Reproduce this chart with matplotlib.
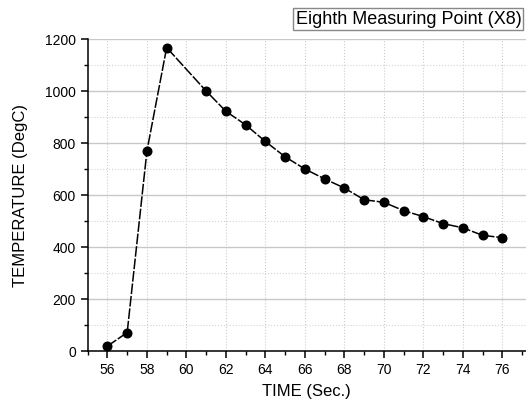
import matplotlib.pyplot as plt
from matplotlib.ticker import MultipleLocator

plt.rcParams.update({
    "font.family": ["Liberation Sans", "DejaVu Sans"],
    "font.size": 10
})

time_sec = [56, 57, 58, 59, 61, 62, 63, 64, 65, 66, 67, 68, 69, 70, 71, 72, 73, 74, 75, 76]
temp_degc = [20, 72, 770, 1168, 1001, 923, 871, 807, 748, 701, 663, 628, 583, 573, 541, 518, 491, 475, 446, 437]

fig = plt.figure(figsize=(5.26, 4.05), dpi=100)
ax = fig.add_axes([0.1667, 0.1326, 0.8333, 0.7704])

ax.plot(time_sec, temp_degc, color='black', lw=1.1, dashes=(7, 1.2),
        marker='o', ms=6.2, mfc='black', mec='black')

ax.set_xlim(55, 77.2)
ax.set_ylim(0, 1200)
ax.xaxis.set_major_locator(MultipleLocator(2))
ax.xaxis.set_minor_locator(MultipleLocator(1))
ax.yaxis.set_major_locator(MultipleLocator(200))
ax.yaxis.set_minor_locator(MultipleLocator(100))

ax.grid(axis='y', which='major', color='#c8c8c8', lw=1, ls='-')
ax.grid(axis='y', which='minor', color='#d4d4d4', lw=0.8, ls=':')
ax.grid(axis='x', which='major', color='#cccccc', lw=0.8, ls=':')
ax.set_axisbelow(True)

for s in ['top', 'right']:
    ax.spines[s].set_visible(False)
for s in ['left', 'bottom']:
    ax.spines[s].set_linewidth(1.1)

ax.tick_params(which='major', direction='out', length=5, width=1.1, labelsize=10)
ax.tick_params(which='minor', direction='out', length=3, width=1)

ax.set_xlabel("TIME (Sec.)", fontsize=12, labelpad=5)
ax.set_ylabel("TEMPERATURE (DegC)", fontsize=12, labelpad=12)

fig.text(0.991, 0.953, "Eighth Measuring Point (X8)", fontsize=13, ha='right', va='center',
         bbox=dict(boxstyle='square,pad=0.12', fc='white', ec='#888888', lw=1))

plt.savefig('out.png', dpi=100)
